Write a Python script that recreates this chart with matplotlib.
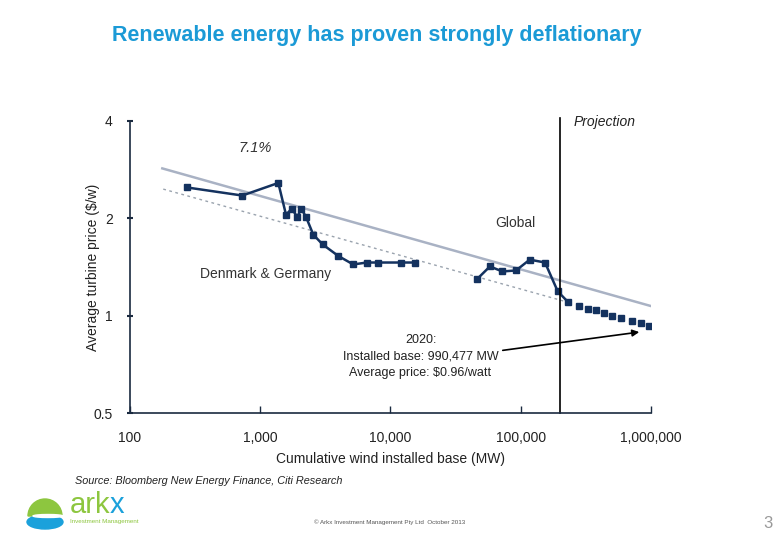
import matplotlib.pyplot as plt
from matplotlib.patches import Wedge, Ellipse
from matplotlib.ticker import FixedLocator, NullLocator

plt.rcParams['font.family'] = ['Liberation Sans', 'DejaVu Sans']

# Denmark & Germany historical series
dg_x = [272, 728, 1376, 1577, 1743, 1925, 2066, 2244, 2553, 3015, 3970, 5177, 6561, 8057, 11970, 15500]
dg_y = [2.49, 2.35, 2.57, 2.05, 2.14, 2.02, 2.14, 2.02, 1.78, 1.66, 1.53, 1.44, 1.46, 1.46, 1.46, 1.46]

# Global historical series
gl_x = [46400, 58000, 72200, 92000, 117200, 153600, 192200, 231900]
gl_y = [1.30, 1.42, 1.37, 1.38, 1.49, 1.46, 1.19, 1.10]

# Projection to 2020
pr_x = [281700, 328400, 378200, 435800, 504700, 591700, 714700, 833000, 970000]
pr_y = [1.07, 1.05, 1.04, 1.02, 1.00, 0.985, 0.965, 0.95, 0.93]

# trend lines
trend_x = [177, 1011000]
trend_y = [2.85, 1.07]
fit_x = [180, 231900]
fit_y = [2.46, 1.10]

proj_x = 200000

xticks = [100, 1000, 10000, 100000, 1000000]
xlabels = ['100', '1,000', '10,000', '100,000', '1,000,000']
yticks = [0.5, 1, 2, 4]
ylabels = ['0.5', '1', '2', '4']

navy = '#14325F'
grey = '#A9B2C4'
txt = '#222222'

fig = plt.figure(figsize=(7.8, 5.4), dpi=100)
ax = fig.add_axes([130 / 780, 1 - 413.3 / 540, 521 / 780, 292.6 / 540])

ax.plot(trend_x, trend_y, color=grey, linewidth=1.8)
ax.plot(fit_x, fit_y, color='#9AA3AE', linewidth=1, linestyle=(0, (2, 2.5)))
ax.plot(dg_x, dg_y, color=navy, marker='s', ms=4.5, linewidth=1.8)
ax.plot(gl_x, gl_y, color=navy, marker='s', ms=4.5, linewidth=1.8)
ax.plot(pr_x, pr_y, color=navy, marker='s', ms=4.5, linestyle='none')
ax.axvline(proj_x, ymin=0, ymax=1.01, color='black', linewidth=1.2, clip_on=False)

ax.set_xscale('log')
ax.set_yscale('log')
ax.set_xlim(100, 1000000)
ax.set_ylim(0.5, 4)
ax.xaxis.set_major_locator(FixedLocator(xticks))
ax.xaxis.set_minor_locator(NullLocator())
ax.yaxis.set_major_locator(FixedLocator(yticks))
ax.yaxis.set_minor_locator(NullLocator())
ax.set_xticklabels(xlabels)
ax.set_yticklabels(ylabels)
ax.tick_params(axis='x', direction='in', length=5, width=1, color='#1a2a40',
               labelsize=10, labelcolor=txt, pad=13)
ax.tick_params(axis='y', direction='inout', length=5, width=1.5, color='#1a2a40',
               labelsize=10, labelcolor=txt, pad=10)
for s in ['top', 'right']:
    ax.spines[s].set_visible(False)
for s in ['left', 'bottom']:
    ax.spines[s].set_color('#1a2a40')
    ax.spines[s].set_linewidth(1.2)

ax.set_xlabel('Cumulative wind installed base (MW)', fontsize=10, color=txt, labelpad=5)
ax.set_ylabel('Average turbine price ($/w)', fontsize=10, color=txt, labelpad=-5)

ax.text(912, 3.29, '7.1%', fontsize=10.5, style='italic', color='#333333', ha='center', va='center')
ax.text(90400, 1.93, 'Global', fontsize=10, color='#333333', ha='center', va='center')
ax.text(1107, 1.346, 'Denmark & Germany', fontsize=10, color='#333333', ha='center', va='center')
ax.text(256000, 3.95, 'Projection', fontsize=10, style='italic', color=txt, ha='left', va='center')
ax.text(17000, 0.75, '2020:\nInstalled base: 990,477 MW\nAverage price: $0.96/watt',
        fontsize=9, color=txt, ha='center', va='center', linespacing=1.5)
ax.annotate('', xy=(853000, 0.893), xytext=(69300, 0.78),
            arrowprops=dict(arrowstyle='-|>', color='black', lw=1.2, mutation_scale=10))

fig.text(377 / 780, 1 - 35 / 540, 'Renewable energy has proven strongly deflationary',
         fontsize=15.5, weight='bold', color='#1B9AD6', ha='center', va='center')
fig.text(75 / 780, 1 - 481 / 540, 'Source: Bloomberg New Energy Finance, Citi Research',
         fontsize=7.8, style='italic', color=txt, ha='left', va='center')
fig.text(390 / 780, 1 - 522 / 540, '© Arkx Investment Management Pty Ltd  October 2013',
         fontsize=4.5, color='#555555', ha='center', va='center')
fig.text(768 / 780, 1 - 524 / 540, '3', fontsize=12, color='#999999', ha='center', va='center')

# logo
lg = fig.add_axes([22 / 780, 1 - 532 / 540, 45 / 780, 38 / 540])
lg.set_xlim(0, 45)
lg.set_ylim(0, 38)
lg.set_aspect('equal')
lg.axis('off')
lg.add_patch(Wedge((23, 16), 17, 0, 180, color='#8DC63F'))
lg.add_patch(Ellipse((23, 10), 36, 14, color='#1BA1DB'))
lg.add_patch(Ellipse((26, 16), 30, 3, color='white'))
fig.text(70 / 780, 1 - 513 / 540, 'ark', fontsize=21, color='#8DC63F', ha='left', va='baseline')
fig.text(110 / 780, 1 - 513 / 540, 'x', fontsize=21, color='#1BA1DB', ha='left', va='baseline')
fig.text(70 / 780, 1 - 521 / 540, 'Investment Management', fontsize=4.5, color='#8DC63F',
         ha='left', va='center')

plt.savefig('out.png', dpi=100)
